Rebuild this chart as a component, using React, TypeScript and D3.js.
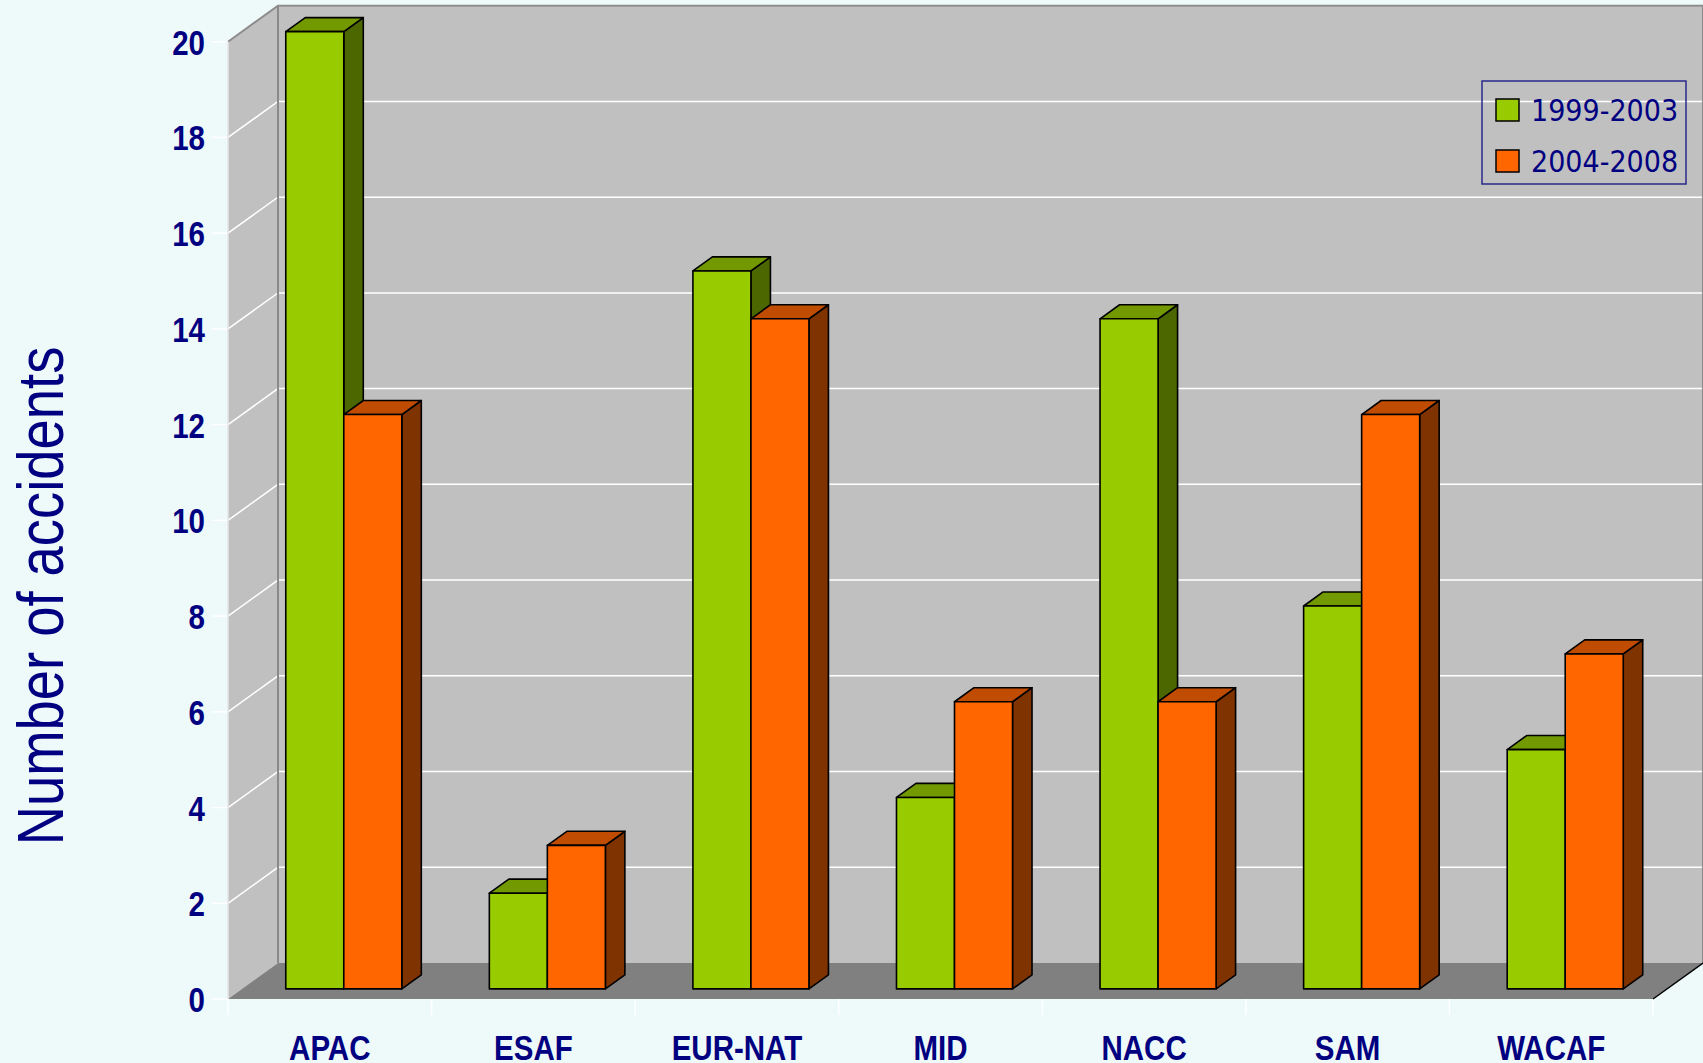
import * as d3 from 'd3';
import React, { useEffect, useRef } from 'react';

const regions = ['APAC', 'ESAF', 'EUR-NAT', 'MID', 'NACC', 'SAM', 'WACAF'];
const periods = ['1999-2003', '2004-2008'];
const accidents1999to2003 = [20, 2, 15, 4, 14, 8, 5];
const accidents2004to2008 = [12, 3, 14, 6, 6, 12, 7];
const yTickValues = [0, 2, 4, 6, 8, 10, 12, 14, 16, 18, 20];

const palette = [
  { front: '#99CC00', top: '#739900', side: '#4C6600' },
  { front: '#FF6600', top: '#BF4C00', side: '#7F3300' },
];

// no narrow font installed, so Liberation Sans is squeezed horizontally
const sans = "'Liberation Sans', Arial, sans-serif";
const condensed = "'DejaVu Sans Condensed', 'DejaVu Sans', sans-serif";

const App: React.FC = () => {
  const chartRef = useRef<SVGSVGElement | null>(null);

  useEffect(() => {
    if (!chartRef.current) return;
    const root = d3.select(chartRef.current);
    root.selectAll('*').remove();

    const width = 1703;
    const height = 1063;
    const plot = { left: 228, right: 1653, bottom: 999, top: 41.7 };
    const depth = { dx: 50, dy: -36 };
    const barDepth = [0.28, 0.67];

    const x0 = d3.scaleBand<string>().domain(regions).range([plot.left, plot.right]);
    const groupWidth = x0.bandwidth() * 0.57;
    const x1 = d3.scaleBand<string>().domain(periods).range([0, groupWidth]);
    const y = d3.scaleLinear().domain([0, 20]).range([plot.bottom, plot.top]);

    const p = (x: number, yy: number, z: number): [number, number] => [
      x + z * depth.dx,
      yy + z * depth.dy,
    ];
    const poly = (pts: [number, number][]) => 'M' + pts.map((d) => d.join(',')).join('L') + 'Z';

    const narrowText = (
      transform: string,
      label: string,
      size: number,
      anchor: string,
      bold: boolean,
      squeeze: number,
      dy = '0'
    ) => {
      root
        .append('g')
        .attr('transform', `${transform} scale(${squeeze},1)`)
        .append('text')
        .attr('text-anchor', anchor)
        .attr('dy', dy)
        .style('font-family', sans)
        .style('font-weight', bold ? 'bold' : 'normal')
        .style('font-size', `${size}px`)
        .attr('fill', '#000080')
        .text(label);
    };

    root.append('rect').attr('width', width).attr('height', height).attr('fill', '#EEF9FA');

    // walls and floor
    root
      .append('path')
      .attr('d', poly([p(plot.left, plot.top, 0), p(plot.left, plot.top, 1), p(plot.left, plot.bottom, 1), p(plot.left, plot.bottom, 0)]))
      .attr('fill', '#C0C0C0');
    root
      .append('path')
      .attr('d', poly([p(plot.left, plot.top, 1), p(plot.right, plot.top, 1), p(plot.right, plot.bottom, 1), p(plot.left, plot.bottom, 1)]))
      .attr('fill', '#C0C0C0');
    root
      .append('path')
      .attr('d', poly([p(plot.left, plot.bottom, 0), p(plot.right, plot.bottom, 0), p(plot.right, plot.bottom, 1), p(plot.left, plot.bottom, 1)]))
      .attr('fill', '#808080');

    // gridlines
    const grid = root.append('g').attr('stroke', '#FFFFFF').attr('stroke-width', 1.5).attr('fill', 'none');
    yTickValues.forEach((v) => {
      const yf = y(v);
      grid.append('line').attr('x1', plot.left - 16).attr('x2', plot.left).attr('y1', yf).attr('y2', yf);
      if (v === 0) return;
      const a = p(plot.left, yf, 0);
      const b = p(plot.left, yf, 1);
      const c = p(plot.right, yf, 1);
      grid.append('path').attr('d', `M${a}L${b}L${c}`);
    });
    regions.concat(['']).forEach((r, i) => {
      const xx = i < regions.length ? (x0(r) as number) : plot.right;
      grid.append('line').attr('x1', xx).attr('x2', xx).attr('y1', plot.bottom).attr('y2', plot.bottom + 16);
    });

    // wall edges
    root
      .append('path')
      .attr('d', `M${p(plot.left, plot.top, 0)}L${p(plot.left, plot.top, 1)}L${p(plot.right, plot.top, 1)}`)
      .attr('fill', 'none')
      .attr('stroke', '#8A8A8A')
      .attr('stroke-width', 2);
    root
      .append('path')
      .attr('d', `M${p(plot.left, plot.top, 1)}L${p(plot.left, plot.bottom, 1)}`)
      .attr('stroke', '#8A8A8A')
      .attr('stroke-width', 2);
    root
      .append('path')
      .attr('d', `M${p(plot.right, plot.top, 1)}L${p(plot.right, plot.bottom, 1)}`)
      .attr('stroke', '#8A8A8A')
      .attr('stroke-width', 2);
    root
      .append('path')
      .attr('d', `M${p(plot.left, plot.top, 0)}L${p(plot.left, plot.bottom, 0)}`)
      .attr('stroke', '#E6E6E6')
      .attr('stroke-width', 1.5);
    root
      .append('path')
      .attr('d', `M${p(plot.right, plot.bottom, 0)}L${p(plot.right, plot.bottom, 1)}`)
      .attr('stroke', '#000000')
      .attr('stroke-width', 1.5);

    // bars
    const series = [accidents1999to2003, accidents2004to2008];
    const bars = root.append('g').attr('stroke', '#000000').attr('stroke-width', 1.6).attr('stroke-linejoin', 'round');
    regions.forEach((r, i) => {
      const gx = (x0(r) as number) + (x0.bandwidth() - groupWidth) / 2;
      periods.forEach((s, j) => {
        const v = series[j][i];
        const xl = gx + (x1(s) as number);
        const xr = xl + x1.bandwidth();
        const yt = y(v);
        const yb = y(0);
        const [z1, z2] = barDepth;
        const c = palette[j];
        bars.append('path').attr('d', poly([p(xr, yt, z1), p(xr, yt, z2), p(xr, yb, z2), p(xr, yb, z1)])).attr('fill', c.side);
        bars.append('path').attr('d', poly([p(xl, yt, z1), p(xr, yt, z1), p(xr, yt, z2), p(xl, yt, z2)])).attr('fill', c.top);
        bars.append('path').attr('d', poly([p(xl, yt, z1), p(xr, yt, z1), p(xr, yb, z1), p(xl, yb, z1)])).attr('fill', c.front);
      });
    });

    // y tick labels
    yTickValues.forEach((v) => {
      narrowText(`translate(205, ${y(v)})`, String(v), 36, 'end', true, 0.82, '0.36em');
    });

    // x labels
    regions.forEach((r) => {
      narrowText(`translate(${(x0(r) as number) + x0.bandwidth() / 2}, 1060)`, r, 36, 'middle', true, 0.82);
    });

    // Axis title
    narrowText('translate(63, 596) rotate(-90)', 'Number of accidents', 64, 'middle', false, 0.85);

    // legend
    const legend = root.append('g');
    legend
      .append('rect')
      .attr('x', 1482)
      .attr('y', 81)
      .attr('width', 204)
      .attr('height', 103)
      .attr('fill', 'none')
      .attr('stroke', '#2A2A8C')
      .attr('stroke-width', 1.5);
    periods.forEach((s, j) => {
      const top = 99 + j * 51;
      legend
        .append('rect')
        .attr('x', 1496)
        .attr('y', top)
        .attr('width', 23)
        .attr('height', 22)
        .attr('fill', palette[j].front)
        .attr('stroke', '#000000')
        .attr('stroke-width', 1.5);
      legend
        .append('text')
        .attr('x', 1531)
        .attr('y', top + 22)
        .style('font-family', condensed)
        .style('font-size', '30px')
        .attr('fill', '#000080')
        .text(s);
    });
  }, []);

  return (
    <svg
      ref={chartRef}
      width={1703}
      height={1063}
      style={{ position: 'absolute', left: 0, top: 0, display: 'block' }}
    ></svg>
  );
};

export default App;
